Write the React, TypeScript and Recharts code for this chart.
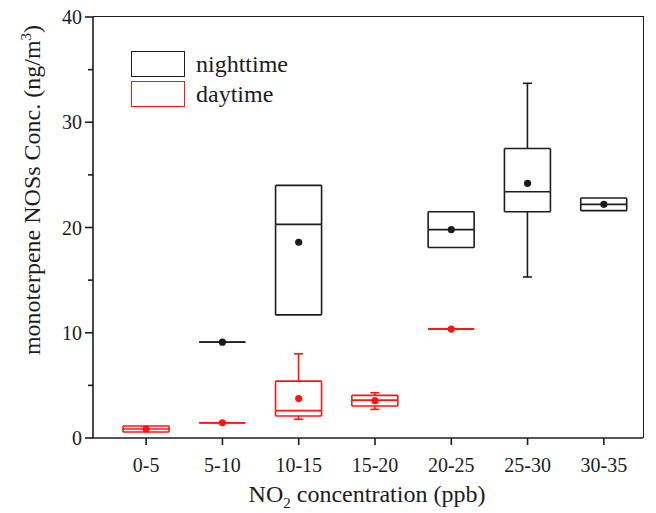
import React from 'react';
import { ComposedChart, Bar, Scatter, XAxis, YAxis } from 'recharts';

// NO2 bins
const categories = ['0-5', '5-10', '10-15', '15-20', '20-25', '25-30', '30-35'];

// nighttime box stats (ng/m3)
const nightMin = [null, 9.1, 11.7, null, 18.1, 15.3, 21.6];
const nightQ1 = [null, 9.1, 11.7, null, 18.1, 21.5, 21.6];
const nightMedian = [null, 9.1, 20.3, null, 19.8, 23.4, 22.2];
const nightQ3 = [null, 9.1, 24.0, null, 21.5, 27.5, 22.8];
const nightMax = [null, 9.1, 24.0, null, 21.5, 33.7, 22.8];
const nightMean = [null, 9.1, 18.6, null, 19.8, 24.2, 22.2];

// daytime box stats (ng/m3)
const dayMin = [0.57, 1.45, 1.78, 2.72, 10.35, null, null];
const dayQ1 = [0.57, 1.45, 2.09, 3.04, 10.35, null, null];
const dayMedian = [0.85, 1.45, 2.6, 3.6, 10.35, null, null];
const dayQ3 = [1.14, 1.45, 5.4, 4.05, 10.35, null, null];
const dayMax = [1.14, 1.45, 8.0, 4.3, 10.35, null, null];
const dayMean = [0.86, 1.45, 3.75, 3.55, 10.35, null, null];

const yTicks = [0, 5, 10, 15, 20, 25, 30, 35, 40];

const INK = '#1c1c1c';
const RED = '#ff1414';
const FONT = '"Liberation Serif", "Times New Roman", serif';

const diff = (a: number | null, b: number | null) =>
  a == null || b == null ? null : +(a - b).toFixed(3);

const tableData = categories.map((cat, i) => ({
  cat,
  nBase: nightMin[i],
  nLowW: diff(nightQ1[i], nightMin[i]),
  nLowBox: diff(nightMedian[i], nightQ1[i]),
  nUpBox: diff(nightQ3[i], nightMedian[i]),
  nUpW: diff(nightMax[i], nightQ3[i]),
  nMean: nightMean[i],
  dBase: dayMin[i],
  dLowW: diff(dayQ1[i], dayMin[i]),
  dLowBox: diff(dayMedian[i], dayQ1[i]),
  dUpBox: diff(dayQ3[i], dayMedian[i]),
  dUpW: diff(dayMax[i], dayQ3[i]),
  dMean: dayMean[i],
}));

const boxPart = (part: string, color: string, key: string) => (props: any) => {
  const { x, y, width, height, payload } = props;
  if (!payload || payload[key] == null || x == null || y == null) return <g />;
  const top = Math.min(y, y + height);
  const h = Math.abs(height);
  const cx = x + width / 2;
  const cap = 4.5;
  const s = { stroke: color, strokeWidth: 1.6, fill: 'none' };
  if (part === 'lowW') {
    if (h < 0.5) return <g />;
    return (
      <g>
        <line x1={cx} x2={cx} y1={top} y2={top + h} {...s} />
        <line x1={cx - cap} x2={cx + cap} y1={top + h} y2={top + h} {...s} />
      </g>
    );
  }
  if (part === 'upW') {
    if (h < 0.5) return <g />;
    return (
      <g>
        <line x1={cx} x2={cx} y1={top} y2={top + h} {...s} />
        <line x1={cx - cap} x2={cx + cap} y1={top} y2={top} {...s} />
      </g>
    );
  }
  if (part === 'lowBox') {
    return (
      <g>
        <line x1={x} x2={x} y1={top} y2={top + h} {...s} />
        <line x1={x + width} x2={x + width} y1={top} y2={top + h} {...s} />
        <line x1={x} x2={x + width} y1={top + h} y2={top + h} {...s} />
        <line x1={x} x2={x + width} y1={top} y2={top} {...s} />
      </g>
    );
  }
  // upper box
  return (
    <g>
      <line x1={x} x2={x} y1={top} y2={top + h} {...s} />
      <line x1={x + width} x2={x + width} y1={top} y2={top + h} {...s} />
      <line x1={x} x2={x + width} y1={top} y2={top} {...s} />
    </g>
  );
};

const meanDot = (color: string, key: string) => (props: any) => {
  const { cx, cy, payload } = props;
  if (!payload || payload[key] == null || cx == null || cy == null) return <g />;
  return <circle cx={cx} cy={cy} r={3.6} fill={color} />;
};

const Y_TICK = 8;
const Y_MARGIN = 3;

const YTick = (props: any) => {
  const { x, y, payload } = props;
  const axisX = x + Y_TICK + Y_MARGIN;
  const major = payload.value % 10 === 0;
  return (
    <g>
      <line x1={axisX - (major ? 8 : 5)} x2={axisX} y1={y} y2={y} stroke={INK} strokeWidth={1.6} />
      {major && (
        <text x={x} y={y} dy="0.35em" textAnchor="end" fontSize={20} fontFamily={FONT} fill={INK}>
          {payload.value}
        </text>
      )}
    </g>
  );
};

const YTitle = () => (
  <text
    transform="translate(40, 190) rotate(-90)"
    textAnchor="middle"
    fontSize={24}
    fontFamily={FONT}
    fill={INK}
  >
    monoterpene NOSs Conc. (ng/m
    <tspan dy={-9} fontSize={15}>3</tspan>
    <tspan dy={9}>)</tspan>
  </text>
);

const XTitle = () => (
  <text x={367} y={502} textAnchor="middle" fontSize={24} fontFamily={FONT} fill={INK}>
    NO
    <tspan dy={6} fontSize={15}>2</tspan>
    <tspan dy={-6}> concentration (ppb)</tspan>
  </text>
);

const legendItems = [
  { name: 'nighttime', color: INK },
  { name: 'daytime', color: RED },
];

const BoxLegend = () => (
  <div style={{ position: 'absolute', left: 131, top: 49, fontFamily: FONT }}>
    {legendItems.map((item) => (
      <div key={item.name} style={{ display: 'flex', alignItems: 'center', height: 30 }}>
        <div
          style={{
            width: 52,
            height: 24,
            border: `1.6px solid ${item.color}`,
            boxSizing: 'content-box',
          }}
        />
        <span style={{ marginLeft: 11, fontSize: 24, color: INK, lineHeight: '24px' }}>{item.name}</span>
      </div>
    ))}
  </div>
);

// top + right edges of the plot frame
const Frame = () => (
  <div
    style={{
      position: 'absolute',
      left: 93,
      top: 16.2,
      width: 550.8,
      height: 421.8,
      boxSizing: 'border-box',
      borderTop: `1.6px solid ${INK}`,
      borderRight: `1.6px solid ${INK}`,
      pointerEvents: 'none',
    }}
  />
);

const App: React.FC = () => {
  const axisStroke = { stroke: INK, strokeWidth: 1.6 };
  return (
    <div style={{ position: 'absolute', left: 0, top: 0, width: 656, height: 513, background: '#fff' }}>
      <ComposedChart
        width={656}
        height={513}
        data={tableData}
        margin={{ top: 17, right: 13, left: 0, bottom: 0 }}
      >
        <XAxis
          xAxisId="n"
          dataKey="cat"
          height={75}
          padding={{ left: 15, right: 1 }}
          axisLine={axisStroke}
          tickLine={axisStroke}
          tickSize={7}
          tickMargin={13}
          interval={0}
          tick={{ fontSize: 20, fontFamily: FONT, fill: INK }}
          label={<XTitle />}
        />
        <XAxis xAxisId="t" dataKey="cat" orientation="top" hide padding={{ left: 15, right: 1 }} />
        <YAxis
          type="number"
          domain={[0, 40]}
          ticks={yTicks}
          interval={0}
          width={93}
          axisLine={axisStroke}
          tickLine={false}
          tickSize={Y_TICK}
          tickMargin={Y_MARGIN}
          tick={<YTick />}
          label={<YTitle />}
        />
        <YAxis yAxisId="r" orientation="right" type="number" domain={[0, 40]} hide />

        <Bar xAxisId="n" dataKey="nBase" stackId="n" barSize={46} fill="none" shape={() => <g />} isAnimationActive={false} />
        <Bar xAxisId="n" dataKey="nLowW" stackId="n" barSize={46} shape={boxPart('lowW', INK, 'nLowW')} isAnimationActive={false} />
        <Bar xAxisId="n" dataKey="nLowBox" stackId="n" barSize={46} shape={boxPart('lowBox', INK, 'nLowBox')} isAnimationActive={false} />
        <Bar xAxisId="n" dataKey="nUpBox" stackId="n" barSize={46} shape={boxPart('upBox', INK, 'nUpBox')} isAnimationActive={false} />
        <Bar xAxisId="n" dataKey="nUpW" stackId="n" barSize={46} shape={boxPart('upW', INK, 'nUpW')} isAnimationActive={false} />
        <Scatter xAxisId="n" dataKey="nMean" shape={meanDot(INK, 'nMean')} isAnimationActive={false} />

        <Bar xAxisId="t" yAxisId="r" dataKey="dBase" stackId="d" barSize={46} fill="none" shape={() => <g />} isAnimationActive={false} />
        <Bar xAxisId="t" yAxisId="r" dataKey="dLowW" stackId="d" barSize={46} shape={boxPart('lowW', RED, 'dLowW')} isAnimationActive={false} />
        <Bar xAxisId="t" yAxisId="r" dataKey="dLowBox" stackId="d" barSize={46} shape={boxPart('lowBox', RED, 'dLowBox')} isAnimationActive={false} />
        <Bar xAxisId="t" yAxisId="r" dataKey="dUpBox" stackId="d" barSize={46} shape={boxPart('upBox', RED, 'dUpBox')} isAnimationActive={false} />
        <Bar xAxisId="t" yAxisId="r" dataKey="dUpW" stackId="d" barSize={46} shape={boxPart('upW', RED, 'dUpW')} isAnimationActive={false} />
        <Scatter xAxisId="t" yAxisId="r" dataKey="dMean" shape={meanDot(RED, 'dMean')} isAnimationActive={false} />
      </ComposedChart>
      <Frame />
      <BoxLegend />
    </div>
  );
};

export default App;
